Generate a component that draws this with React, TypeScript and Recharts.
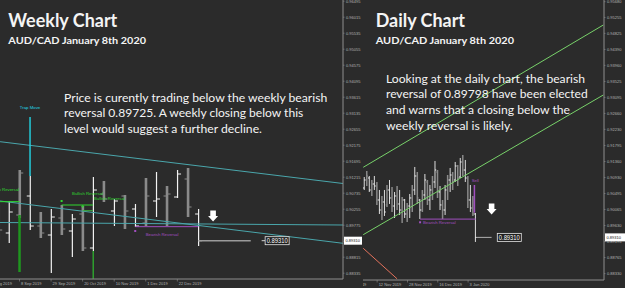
import React from "react";
import { ComposedChart, Bar, XAxis, YAxis, ReferenceLine, ReferenceDot } from "recharts";

const BG = "#2b2b2b";
const AXIS = "#8f8f8f";
const TICK = "#b4b4b4";
const SMALL = "'Liberation Sans', Arial, sans-serif";
const BODY = "Lato, 'Open Sans', sans-serif";
const CURRENT = 0.8931;

// weekly AUD/CAD bars, index 0 = 18 Aug 2019
const weekIndex = [1, 2, 3, 4, 5, 6, 7, 8, 9, 10, 11, 12, 13, 14, 15, 16, 17, 18, 19, 20];
const weekHigh = [0.90381, 0.90501, 0.91431, 0.91251, 0.90171, 0.90261, 0.90381, 0.90111, 0.90351, 0.91221, 0.91101, 0.90561, 0.90681, 0.90411, 0.91191, 0.91371, 0.90951, 0.91431, 0.91491, 0.90261];
const weekLow = [0.89331, 0.89241, 0.89991, 0.89631, 0.89391, 0.88341, 0.89481, 0.88821, 0.89001, 0.89001, 0.90471, 0.89751, 0.89661, 0.89721, 0.89751, 0.90021, 0.89751, 0.90591, 0.90021, 0.89151];
const weekOpen = [0.89871, 0.89541, 0.90081, 0.90651, 0.89751, 0.89481, 0.89991, 0.89601, 0.90111, 0.89091, 0.90711, 0.90201, 0.90651, 0.90261, 0.89841, 0.90501, 0.90651, 0.90621, 0.91161, 0.90111];
const weekClose = [0.89631, 0.90171, 0.91341, 0.89751, 0.89541, 0.90021, 0.89661, 0.89961, 0.89091, 0.90831, 0.90561, 0.90501, 0.90201, 0.89751, 0.90651, 0.90561, 0.90711, 0.91311, 0.90321, 0.8931];
const weekTicks = [0, 3, 6, 9, 12, 15, 18];
const weekTickLabels = ["18 Aug 2019", "8 Sep 2019", "29 Sep 2019", "20 Oct 2019", "10 Nov 2019", "1 Dec 2019", "22 Dec 2019"];
const weekPriceTicks = [0.96495, 0.96015, 0.95535, 0.95055, 0.94575, 0.94095, 0.93615, 0.93135, 0.92655, 0.92175, 0.91695, 0.91215, 0.90735, 0.90255, 0.89775, 0.89295, 0.88815, 0.88335];

// daily AUD/CAD bars, index 0 = 5 Nov 2019
const dayHigh = [0.90942, 0.91104, 0.90969, 0.90861, 0.90969, 0.90807, 0.90591, 0.90429, 0.90591, 0.90726, 0.90861, 0.90672, 0.90537, 0.90699, 0.90591, 0.90402, 0.90348, 0.9024, 0.90483, 0.90726, 0.91213, 0.91077, 0.90348, 0.90591, 0.91023, 0.90861, 0.90726, 0.90969, 0.91375, 0.91131, 0.90699, 0.90321, 0.90726, 0.90996, 0.91186, 0.91077, 0.91348, 0.91267, 0.91456, 0.91537, 0.91402, 0.90969, 0.90726, 0.90429, 0.89969];
const dayLow = [0.90591, 0.90699, 0.90537, 0.90429, 0.90591, 0.90186, 0.89942, 0.8978, 0.89888, 0.90131, 0.90213, 0.89996, 0.89834, 0.9005, 0.89915, 0.89699, 0.89834, 0.89726, 0.89834, 0.89996, 0.90456, 0.90213, 0.89807, 0.89996, 0.90321, 0.90186, 0.9005, 0.90321, 0.90645, 0.90375, 0.9005, 0.89807, 0.89915, 0.90321, 0.90537, 0.90591, 0.90807, 0.90699, 0.90915, 0.90969, 0.90807, 0.90104, 0.89996, 0.89888, 0.89186];
const dayOpen = [0.90645, 0.90861, 0.90915, 0.90591, 0.90753, 0.90699, 0.90321, 0.9005, 0.90267, 0.90186, 0.90591, 0.90375, 0.90158, 0.90429, 0.90213, 0.9005, 0.90321, 0.89942, 0.90158, 0.90375, 0.90591, 0.90969, 0.90321, 0.9005, 0.90456, 0.90807, 0.90321, 0.90591, 0.90807, 0.91077, 0.90537, 0.90186, 0.9005, 0.90591, 0.90861, 0.90996, 0.90861, 0.9124, 0.90942, 0.91348, 0.91131, 0.90915, 0.90321, 0.90104, 0.89942];
const dayClose = [0.90861, 0.90969, 0.90591, 0.90753, 0.90699, 0.90321, 0.9005, 0.90267, 0.89996, 0.90591, 0.90375, 0.90158, 0.90429, 0.90213, 0.9005, 0.90321, 0.89942, 0.90158, 0.90375, 0.90591, 0.90969, 0.90375, 0.9005, 0.90456, 0.90861, 0.90321, 0.90591, 0.90807, 0.91131, 0.90537, 0.90186, 0.9005, 0.90591, 0.90861, 0.90996, 0.90807, 0.9124, 0.90915, 0.91348, 0.91131, 0.90915, 0.90321, 0.90104, 0.89942, 0.8931];
const dayTicks = [-8.5, 5, 17, 29, 41];
const dayTickLabels = ["24 Oct 2019", "12 Nov 2019", "28 Nov 2019", "16 Dec 2019", "3 Jan 2020"];
const dayPriceTicks = [0.9568, 0.95255, 0.94825, 0.9439, 0.9396, 0.93525, 0.93095, 0.9266, 0.9223, 0.91795, 0.9136, 0.9093, 0.90495, 0.90065, 0.8963, 0.89195, 0.88765, 0.8833];

// trend lines [x1, y1, x2, y2] in bar index / price
const weekChannel = [
  [1.15, 0.9228, 33.75, 0.91026],
  [1.15, 0.90501, 33.75, 0.89232],
  [1.15, 0.89856, 33.75, 0.89781],
];
const dayChannel = [
  [-0.5, 0.91204, 94.5, 0.9505],
  [-0.5, 0.89383, 94.5, 0.93158],
];
const dayRedLine = [-0.5, 0.89015, 12.9, 0.8819];

// notes
const subtitle = "AUD/CAD January 8th 2020";
const weeklyNote = [
  "Price is curently trading below the weekly bearish",
  "reversal 0.89725. A weekly closing below this",
  "level would suggest a further decline.",
];
const dailyNote = [
  "Looking at the daily chart, the bearish",
  "reversal of 0.89798 have been elected",
  "and warns that a closing below the",
  "weekly reversal is likely.",
];

const weekly = weekIndex.map((i, k) => ({
  i,
  open: weekOpen[k],
  high: weekHigh[k],
  low: weekLow[k],
  close: weekClose[k],
  range: [weekLow[k], weekHigh[k]],
}));

const daily = dayHigh.map((h, k) => ({
  i: k,
  open: dayOpen[k],
  high: h,
  low: dayLow[k],
  close: dayClose[k],
  range: [dayLow[k], h],
}));

function OhlcBar(props: any) {
  const { x, y, width, height, payload, thin, thick, arm } = props;
  if (!payload || !isFinite(y) || !isFinite(height)) return <g />;
  const top = Math.min(y, y + height);
  const h = Math.abs(height);
  const cx = x + width / 2;
  const span = payload.high - payload.low || 1;
  const yo = top + ((payload.high - payload.open) / span) * h;
  const yc = top + ((payload.high - payload.close) / span) * h;
  const light = payload.i % 2 === 0;
  const color = light ? "#f2f2f2" : "#8a8a8a";
  return (
    <g>
      <line x1={cx} x2={cx} y1={top} y2={top + h} stroke={color} strokeWidth={light ? thin : thick} />
      <line x1={cx - arm} x2={cx} y1={yo} y2={yo} stroke={color} strokeWidth={1} />
      <line x1={cx} x2={cx + arm} y1={yc} y2={yc} stroke={color} strokeWidth={1} />
    </g>
  );
}

function DateTick(props: any) {
  const { x, y, payload, ticks, labels } = props;
  const k = ticks.indexOf(payload.value);
  return (
    <g>
      <line x1={x} x2={x} y1={y - 2} y2={y + 0.5} stroke={AXIS} strokeWidth={0.6} />
      <text x={x + 1.5} y={y + 3.5} fontSize={4} fill={TICK} fontFamily={SMALL}>
        {labels[k]}
      </text>
    </g>
  );
}

function PriceTick(props: any) {
  const { x, y, payload, boxW } = props;
  const v = payload.value;
  if (v === CURRENT) {
    return (
      <g>
        <rect x={x - 2} y={y - 4} width={boxW} height={8} fill="#ffffff" />
        <text x={x - 0.5} y={y + 1.5} fontSize={4} fill="#111" fontFamily={SMALL}>
          {v.toFixed(5)}
        </text>
      </g>
    );
  }
  return (
    <g>
      <line x1={x - 3} x2={x - 1.5} y1={y} y2={y} stroke={AXIS} strokeWidth={0.6} />
      <text x={x} y={y + 1.5} fontSize={4} fill={TICK} fontFamily={SMALL}>
        {v.toFixed(5)}
      </text>
    </g>
  );
}

function DownArrow({ cx, cy }: any) {
  const pts = [
    [cx - 2.8, cy - 5.5],
    [cx + 2.8, cy - 5.5],
    [cx + 2.8, cy],
    [cx + 5, cy],
    [cx, cy + 5.5],
    [cx - 5, cy],
    [cx - 2.8, cy],
  ]
    .map((p) => p.join(","))
    .join(" ");
  return <polygon points={pts} fill="#ffffff" />;
}

function PriceBox({ cx, cy, dash }: any) {
  return (
    <g>
      {dash ? <line x1={cx - 15.5} x2={cx - 12} y1={cy} y2={cy} stroke="#d0d0d0" strokeWidth={1} /> : null}
      <rect x={cx - 12} y={cy - 4} width={24} height={8} fill="#1e1e1e" stroke="#e8e8e8" strokeWidth={0.8} />
      <text x={cx} y={cy + 2.6} fontSize={7.2} fill="#ffffff" fontFamily={SMALL} textAnchor="middle" textLength={21} lengthAdjust="spacingAndGlyphs">
        {CURRENT.toFixed(5)}
      </text>
    </g>
  );
}

function MarkText({ cx, cy, text, color, anchor }: any) {
  return (
    <text x={cx} y={cy} fontSize={4.3} fill={color} fontFamily={SMALL} textAnchor={anchor || "start"}>
      {text}
    </text>
  );
}

function Square({ cx, cy, color }: any) {
  return <rect x={cx - 1} y={cy - 1} width={2} height={2} fill={color} />;
}

const GREEN = "#30d930";
const PURPLE = "#a24fc0";
const CYAN = "#4aa6ab";

function WeeklyChart() {
  return (
    <ComposedChart width={362} height={288} data={weekly} margin={{ top: 0, right: 0, bottom: 0, left: 0 }}>
      <XAxis
        dataKey="i"
        type="number"
        domain={[1.1445, 33.75]}
        allowDataOverflow
        ticks={weekTicks}
        interval={0}
        height={9}
        tickSize={2}
        tickMargin={0}
        tickLine={false}
        axisLine={{ stroke: AXIS }}
        tick={(p: any) => <DateTick {...p} ticks={weekTicks} labels={weekTickLabels} />}
      />
      <YAxis
        orientation="right"
        type="number"
        domain={[0.88161, 0.96531]}
        allowDataOverflow
        ticks={[...weekPriceTicks, CURRENT]}
        interval={0}
        width={19}
        tickSize={2}
        tickMargin={1}
        tickLine={false}
        axisLine={{ stroke: AXIS }}
        tick={(p: any) => <PriceTick {...p} boxW={18} />}
      />
      {weekChannel.map((s, k) => (
        <ReferenceLine key={k} segment={[{ x: s[0], y: s[1] }, { x: s[2], y: s[3] }]} stroke={CYAN} strokeWidth={1} ifOverflow="hidden" />
      ))}
      <ReferenceLine segment={[{ x: 4, y: 0.93021 }, { x: 4, y: 0.91251 }]} stroke="#22d6e6" strokeWidth={1.4} ifOverflow="hidden" />
      <ReferenceLine segment={[{ x: 1.15, y: 0.90481 }, { x: 3, y: 0.90481 }]} stroke={GREEN} strokeWidth={1} ifOverflow="hidden" />
      <ReferenceLine segment={[{ x: 3, y: 0.90081 }, { x: 3, y: 0.88371 }]} stroke="#1f961f" strokeWidth={2.5} ifOverflow="hidden" />
      <ReferenceLine segment={[{ x: 7, y: 0.90381 }, { x: 10, y: 0.90381 }]} stroke={GREEN} strokeWidth={1} ifOverflow="hidden" />
      <ReferenceLine segment={[{ x: 9, y: 0.90211 }, { x: 10, y: 0.90211 }]} stroke="#3fae3f" strokeWidth={1} ifOverflow="hidden" />
      <ReferenceLine segment={[{ x: 10, y: 0.89001 }, { x: 10, y: 0.88165 }]} stroke={GREEN} strokeWidth={1} ifOverflow="hidden" />
      <ReferenceLine segment={[{ x: 14, y: 0.89731 }, { x: 20, y: 0.89731 }]} stroke={PURPLE} strokeWidth={1} ifOverflow="hidden" />
      <ReferenceLine segment={[{ x: 20, y: CURRENT }, { x: 24.98, y: CURRENT }]} stroke="#9a9a9a" strokeWidth={1.6} ifOverflow="hidden" />
      <Bar
        dataKey="range"
        barSize={3}
        isAnimationActive={false}
        shape={(p: any) => <OhlcBar {...p} thin={1.2} thick={2.6} arm={3.5} />}
      />
      <ReferenceDot x={7} y={0.90501} ifOverflow="visible" shape={(p: any) => <Square cx={p.cx} cy={p.cy} color={GREEN} />} />
      <ReferenceDot x={9} y={0.90342} ifOverflow="visible" shape={(p: any) => <Square cx={p.cx} cy={p.cy} color={GREEN} />} />
      <ReferenceDot x={14} y={0.89601} ifOverflow="visible" shape={(p: any) => <Square cx={p.cx} cy={p.cy} color={PURPLE} />} />
      <ReferenceDot x={4} y={0.93261} ifOverflow="visible" shape={(p: any) => <MarkText cx={p.cx} cy={p.cy} text="Trap Move" color="#22d6e6" anchor="middle" />} />
      <ReferenceDot x={2.95} y={0.90801} ifOverflow="visible" shape={(p: any) => <MarkText cx={p.cx} cy={p.cy} text="Bullish Reversal" color={GREEN} anchor="end" />} />
      <ReferenceDot x={8} y={0.90681} ifOverflow="visible" shape={(p: any) => <MarkText cx={p.cx} cy={p.cy} text="Bullish Reversal" color={GREEN} />} />
      <ReferenceDot x={10.08} y={0.90531} ifOverflow="visible" shape={(p: any) => <MarkText cx={p.cx} cy={p.cy} text="Bullish Reversal" color={GREEN} />} />
      <ReferenceDot x={15} y={0.89451} ifOverflow="visible" shape={(p: any) => <MarkText cx={p.cx} cy={p.cy} text="Bearish Reversal" color={PURPLE} />} />
      <ReferenceDot x={21.4} y={0.90051} ifOverflow="visible" shape={(p: any) => <DownArrow cx={p.cx} cy={p.cy} />} />
      <ReferenceDot x={27.49} y={CURRENT} ifOverflow="visible" shape={(p: any) => <PriceBox cx={p.cx} cy={p.cy} dash />} />
    </ComposedChart>
  );
}

function DailyChart() {
  return (
    <ComposedChart width={262} height={288} data={daily} margin={{ top: 0, right: 0, bottom: 0, left: 0 }}>
      <XAxis
        dataKey="i"
        type="number"
        domain={[-0.594, 94.78]}
        allowDataOverflow
        ticks={dayTicks}
        interval={0}
        height={8}
        tickSize={2}
        tickMargin={0}
        tickLine={false}
        axisLine={{ stroke: AXIS }}
        tick={(p: any) => <DateTick {...p} ticks={dayTicks} labels={dayTickLabels} />}
      />
      <YAxis
        orientation="right"
        type="number"
        domain={[0.88158, 0.95726]}
        allowDataOverflow
        ticks={[...dayPriceTicks, CURRENT]}
        interval={0}
        width={21}
        tickSize={2}
        tickMargin={1}
        tickLine={false}
        axisLine={{ stroke: AXIS }}
        tick={(p: any) => <PriceTick {...p} boxW={20} />}
      />
      {dayChannel.map((s, k) => (
        <ReferenceLine key={k} segment={[{ x: s[0], y: s[1] }, { x: s[2], y: s[3] }]} stroke="#78d26a" strokeWidth={1} ifOverflow="hidden" />
      ))}
      <ReferenceLine
        segment={[{ x: dayRedLine[0], y: dayRedLine[1] }, { x: dayRedLine[2], y: dayRedLine[3] }]}
        stroke="#e4725c"
        strokeWidth={1}
        ifOverflow="hidden"
      />
      <ReferenceLine segment={[{ x: 22, y: 0.89804 }, { x: 44, y: 0.89804 }]} stroke={PURPLE} strokeWidth={1} ifOverflow="hidden" />
      <ReferenceLine segment={[{ x: 43.5, y: 0.90726 }, { x: 43.5, y: 0.89977 }]} stroke={PURPLE} strokeWidth={1.5} ifOverflow="hidden" />
      <ReferenceLine segment={[{ x: 44.4, y: CURRENT }, { x: 50.3, y: CURRENT }]} stroke="#b0b0b0" strokeWidth={1} ifOverflow="hidden" />
      <Bar
        dataKey="range"
        barSize={2}
        isAnimationActive={false}
        shape={(p: any) => <OhlcBar {...p} thin={0.9} thick={1.5} arm={1.3} />}
      />
      <ReferenceDot x={22} y={0.89718} ifOverflow="visible" shape={(p: any) => <Square cx={p.cx} cy={p.cy} color={PURPLE} />} />
      <ReferenceDot x={23.15} y={0.89685} ifOverflow="visible" shape={(p: any) => <MarkText cx={p.cx} cy={p.cy} text="Bearish Reversal" color={PURPLE} />} />
      <ReferenceDot x={42.4} y={0.90807} ifOverflow="visible" shape={(p: any) => <MarkText cx={p.cx} cy={p.cy} text="Sell" color={PURPLE} />} />
      <ReferenceDot x={50.3} y={0.90077} ifOverflow="visible" shape={(p: any) => <DownArrow cx={p.cx} cy={p.cy} />} />
      <ReferenceDot x={57.3} y={CURRENT} ifOverflow="visible" shape={(p: any) => <PriceBox cx={p.cx} cy={p.cy} />} />
    </ComposedChart>
  );
}

function Line({ x, y, w, size, bold, children }: any) {
  return (
    <text x={x} y={y} fontSize={size} fontWeight={bold ? 700 : 400} fill="#f4f4f4" fontFamily={BODY} textLength={w} lengthAdjust="spacingAndGlyphs">
      {children}
    </text>
  );
}

const weeklyNoteW = [263.3, 239.3, 198];
const dailyNoteW = [199, 201.7, 184, 126.7];

export default function App() {
  return (
    <div style={{ position: "fixed", left: 0, top: 0, width: 625, height: 288, background: BG, overflow: "hidden" }}>
      <div style={{ position: "absolute", left: 0, top: 0 }}>
        <WeeklyChart />
      </div>
      <div style={{ position: "absolute", left: 363, top: 0 }}>
        <DailyChart />
      </div>
      <svg width={625} height={288} style={{ position: "absolute", left: 0, top: 0, pointerEvents: "none" }}>
        <Line x={8.3} y={27.3} w={109} size={18} bold>Weekly Chart</Line>
        <Line x={8.3} y={44.3} w={137.7} size={10} bold>{subtitle}</Line>
        <Line x={375.7} y={27.3} w={89.3} size={18} bold>Daily Chart</Line>
        <Line x={375.7} y={44.3} w={138.3} size={10} bold>{subtitle}</Line>
        {weeklyNote.map((t, k) => (
          <Line key={k} x={64} y={101.5 + k * 15.5} w={weeklyNoteW[k]} size={11}>
            {t}
          </Line>
        ))}
        {dailyNote.map((t, k) => (
          <Line key={k} x={386} y={82.7 + k * 15.6} w={dailyNoteW[k]} size={11}>
            {t}
          </Line>
        ))}
      </svg>
    </div>
  );
}
